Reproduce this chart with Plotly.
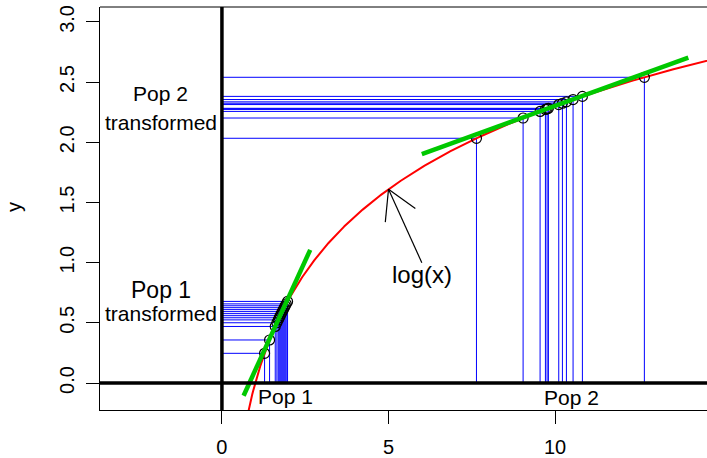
import numpy as np
import plotly.graph_objects as go

# ---- data ----
pop1_x = [1.28, 1.43, 1.60, 1.65, 1.69, 1.72, 1.75, 1.78, 1.81, 1.84, 1.87, 1.90, 1.93, 1.97]
pop2_x = [7.64, 9.04, 9.55, 9.71, 9.76, 9.80, 10.11, 10.22, 10.34, 10.54, 10.82, 12.68]
pop1_center, pop1_half = 1.65, 1.0
pop2_center, pop2_half = 10.0, 4.0
x_ticks = [0, 5, 10]
y_ticks = [0.0, 0.5, 1.0, 1.5, 2.0, 2.5, 3.0]
y_tick_text = ["0.0", "0.5", "1.0", "1.5", "2.0", "2.5", "3.0"]
arrow_tip_x = 5.0
arrow_tail = (6.0, 1.0)

XR = [-3.66, 14.56]
YR = [-0.224, 3.124]
W, H = 707, 458
ML, MR, MT, MB = 100, 0, 7, 48
pw, ph = W - ML - MR, H - MT - MB
sx = pw / (XR[1] - XR[0])
sy = ph / (YR[1] - YR[0])

FONT = "Liberation Sans, Arial, sans-serif"
fig = go.Figure()


def seg_trace(xs, direction):
    X, Y = [], []
    for x in xs:
        y = float(np.log(x))
        if direction == "h":
            X += [0, x, None]
            Y += [y, y, None]
        else:
            X += [x, x, None]
            Y += [0, y, None]
    return go.Scatter(x=X, y=Y, mode="lines", line=dict(color="#0000FF", width=1),
                      hoverinfo="skip", showlegend=False)


for xs in (pop1_x, pop2_x):
    fig.add_trace(seg_trace(xs, "h"))
    fig.add_trace(seg_trace(xs, "v"))

# log curve
cx = np.linspace(0.72, 15, 600)
fig.add_trace(go.Scatter(x=cx, y=np.log(cx), mode="lines", line=dict(color="#FF0000", width=2),
                         showlegend=False))

# points
for xs in (pop1_x, pop2_x):
    fig.add_trace(go.Scatter(x=xs, y=np.log(xs), mode="markers",
                             marker=dict(symbol="circle-open", size=10, color="black",
                                         line=dict(width=1.2, color="black")),
                             showlegend=False))

# tangents
for c, hw in ((pop1_center, pop1_half), (pop2_center, pop2_half)):
    tx = np.array([c - hw, c + hw])
    ty = np.log(c) + (tx - c) / c
    fig.add_trace(go.Scatter(x=tx, y=ty, mode="lines", line=dict(color="#00C800", width=4.5),
                             showlegend=False))

# arrow (open head, R style)
tip = (arrow_tip_x, float(np.log(arrow_tip_x)))
dxp = (arrow_tail[0] - tip[0]) * sx
dyp = (arrow_tail[1] - tip[1]) * sy
ang = np.arctan2(dyp, dxp)
L = 33
ax, ay = [arrow_tail[0], tip[0], None], [arrow_tail[1], tip[1], None]
for d in (np.pi / 6, -np.pi / 6):
    ax += [tip[0] + L * np.cos(ang + d) / sx, tip[0], None]
    ay += [tip[1] + L * np.sin(ang + d) / sy, tip[1], None]
fig.add_trace(go.Scatter(x=ax, y=ay, mode="lines", line=dict(color="black", width=1.2),
                         showlegend=False))

# texts
texts = [
    (-1.83, 2.405, "Pop 2", 21),
    (-1.83, 2.165, "transformed", 21),
    (-1.83, 0.775, "Pop 1", 23),
    (-1.83, 0.575, "transformed", 21),
    (1.92, -0.108, "Pop 1", 21),
    (10.5, -0.116, "Pop 2", 21),
    (6.0, 0.90, "log(x)", 24),
]
for x, y, t, s in texts:
    fig.add_annotation(x=x, y=y, text=t, showarrow=False, font=dict(family=FONT, size=s, color="black"),
                       xanchor="center", yanchor="middle")

fig.add_annotation(xref="paper", yref="paper", x=(14 - ML) / pw, y=(H - MB - 207) / ph, text="y",
                   textangle=-90, showarrow=False, xanchor="center", yanchor="middle",
                   font=dict(family=FONT, size=20, color="black"))

# thick axes lines and box
fig.add_shape(type="line", xref="paper", yref="y", x0=0, x1=1, y0=0, y1=0,
              line=dict(color="black", width=3.5))
fig.add_shape(type="line", xref="x", yref="paper", x0=0, x1=0, y0=0, y1=1,
              line=dict(color="black", width=3.5))
fig.add_shape(type="line", xref="paper", yref="paper", x0=0, x1=1, y0=1, y1=1,
              line=dict(color="black", width=1))

fig.update_layout(
    width=W, height=H, margin=dict(l=ML, r=MR, t=MT, b=MB, autoexpand=False),
    plot_bgcolor="white", paper_bgcolor="white",
    font=dict(family=FONT, size=20, color="black"),
    showlegend=False,
)
fig.update_xaxes(range=XR, showgrid=False, zeroline=False, showline=True, linecolor="black", linewidth=1,
                 ticks="outside", ticklen=13, tickcolor="black", tickvals=x_ticks, automargin=False,
                 tickfont=dict(family=FONT, size=20), ticklabelstandoff=6)
fig.update_yaxes(range=YR, showgrid=False, zeroline=False, showline=True, linecolor="black", linewidth=1,
                 ticks="outside", ticklen=13, tickcolor="black", tickvals=y_ticks, ticktext=y_tick_text,
                 automargin=False, tickangle=-90, tickfont=dict(family=FONT, size=20), ticklabelstandoff=4)

fig.write_html("out.html")
